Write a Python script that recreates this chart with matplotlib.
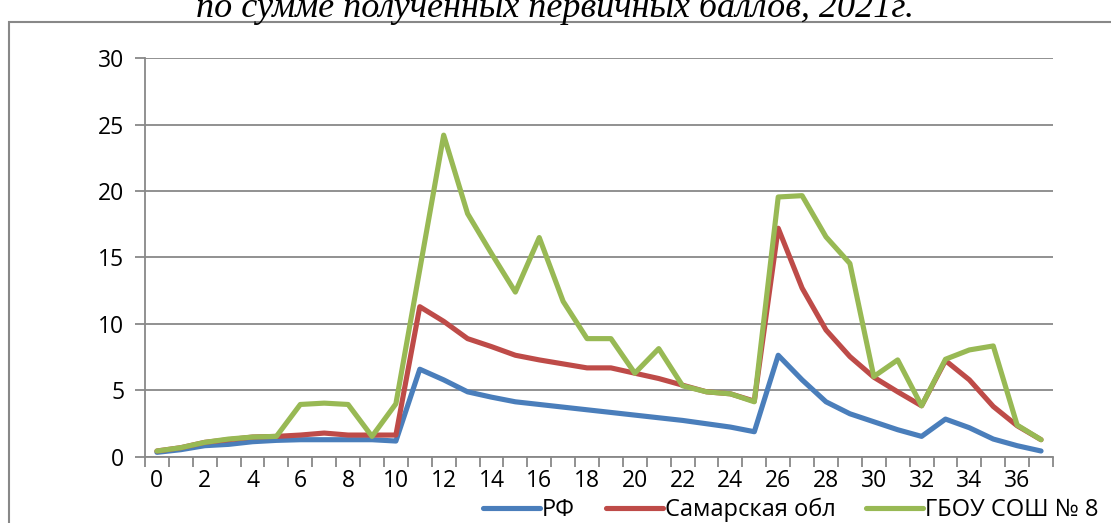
import numpy as np
import matplotlib
matplotlib.use("Agg")
import matplotlib.pyplot as plt
from matplotlib.patches import Rectangle

# primary score (0..37)
scores = np.arange(38)

# share of participants, %
rf = [0.35, 0.55, 0.85, 0.95, 1.15, 1.25, 1.3, 1.3, 1.3, 1.3, 1.2,
      6.6, 5.8, 4.9, 4.5, 4.15, 3.95, 3.75, 3.55, 3.35, 3.15, 2.95, 2.75, 2.5, 2.25, 1.9,
      7.65, 5.8, 4.15, 3.25, 2.65, 2.05, 1.55, 2.85, 2.2, 1.35, 0.85, 0.45]
samara = [0.45, 0.7, 1.1, 1.3, 1.5, 1.55, 1.65, 1.8, 1.65, 1.65, 1.65,
          11.3, 10.2, 8.9, 8.3, 7.65, 7.3, 7.0, 6.7, 6.7, 6.3, 5.9, 5.4, 4.9, 4.75, 4.2,
          17.2, 12.7, 9.55, 7.55, 6.0, 4.9, 3.85, 7.25, 5.8, 3.8, 2.35, 1.3]
school = [0.45, 0.7, 1.1, 1.35, 1.5, 1.55, 3.95, 4.05, 3.95, 1.55, 4.0,
          14.1, 24.2, 18.3, 15.3, 12.4, 16.5, 11.7, 8.9, 8.9, 6.3, 8.15, 5.35, 4.9, 4.75, 4.15,
          19.55, 19.65, 16.55, 14.55, 6.05, 7.3, 3.85, 7.35, 8.05, 8.35, 2.4, 1.3]

names = ["РФ", "Самарская обл", "ГБОУ СОШ № 8"]
colors = ["#4A7EBB", "#BE4B48", "#98B954"]

title = "по сумме полученных первичных баллов, 2021г."

plt.rcParams['font.family'] = ['Open Sans', 'DejaVu Sans']

fig = plt.figure(figsize=(11.11, 5.23), dpi=100)
ax = fig.add_axes([0.1305, 0.1262, 0.8173, 0.7629])

for vals, name, c in zip([rf, samara, school], names, colors):
    ax.plot(scores, vals, color=c, lw=3.7, label=name,
            solid_joinstyle='round', solid_capstyle='round')

grey = "#888888"
ax.set_xlim(-0.5, 37.5)
ax.set_ylim(0, 30)
ax.set_yticks([0, 5, 10, 15, 20, 25, 30])
ax.yaxis.grid(True, color=grey, lw=1.3)
ax.set_axisbelow(True)

ax.set_xticks(scores[::2])
ax.set_xticks(np.arange(-0.5, 38, 1), minor=True)
ax.tick_params(axis='x', which='major', length=0, pad=9, labelsize=16.5)
ax.tick_params(axis='x', which='minor', length=7, color=grey, width=1.3)
ax.tick_params(axis='y', length=7, color=grey, width=1.3, pad=8, labelsize=16.5)

for s in ['top', 'right']:
    ax.spines[s].set_visible(False)
for s in ['left', 'bottom']:
    ax.spines[s].set_color(grey)
    ax.spines[s].set_linewidth(1.3)

# outer chart frame (cut off at right and bottom)
fig.patches.append(Rectangle((9 / 1111, -0.05), 1.2, 1 - 22 / 523 + 0.05,
                             transform=fig.transFigure, fill=False,
                             edgecolor=grey, lw=1.5))

fig.text(0.5, 1 - 17 / 523, title, ha='center', va='baseline',
         family='Liberation Serif', style='italic', fontsize=26)

fig.legend(loc='center', bbox_to_anchor=(0.712, 0.025), ncol=3, frameon=False,
           fontsize=17, handlelength=2.4, columnspacing=1.3, handletextpad=0.1)

fig.savefig("out.png", dpi=100)
